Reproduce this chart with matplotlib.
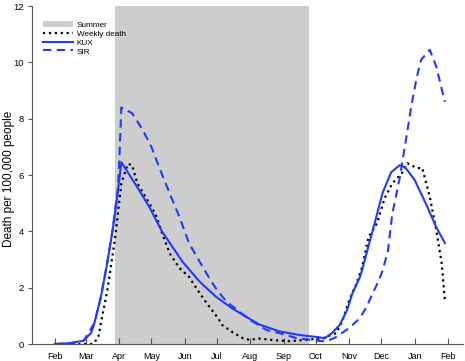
import pandas as pd
import matplotlib
matplotlib.use("Agg")
import matplotlib.pyplot as plt
import matplotlib.dates as mdates

plt.rcParams["font.family"] = ["Liberation Sans", "DejaVu Sans"]

# Weekly observed deaths per 100,000 people
death_dates = ["2020-02-01", "2020-03-06", "2020-03-09", "2020-03-13", "2020-03-15", "2020-03-21",
               "2020-03-28", "2020-04-03", "2020-04-09", "2020-04-13", "2020-04-18", "2020-04-29",
               "2020-05-05", "2020-05-11", "2020-05-18", "2020-05-27", "2020-06-05", "2020-06-15",
               "2020-06-24", "2020-07-02", "2020-07-06", "2020-07-15", "2020-07-25", "2020-08-01",
               "2020-08-08", "2020-08-22", "2020-09-06", "2020-09-19", "2020-09-28", "2020-10-07",
               "2020-10-20", "2020-10-26", "2020-11-01", "2020-11-08", "2020-11-13", "2020-11-19",
               "2020-11-27", "2020-12-04", "2020-12-11", "2020-12-20", "2020-12-25", "2021-01-03",
               "2021-01-08", "2021-01-15", "2021-01-21", "2021-01-26", "2021-01-29"]
death_values = [0.0, 0.0, 0.05, 0.3, 0.75, 1.9,
                3.7, 5.7, 6.4, 6.35, 5.7, 5.0,
                4.6, 3.93, 3.22, 2.7, 2.39, 1.8,
                1.32, 0.92, 0.67, 0.43, 0.21, 0.14,
                0.2, 0.14, 0.1, 0.14, 0.17, 0.2,
                0.39, 0.85, 1.56, 2.17, 2.73, 3.8,
                4.3, 5.18, 5.7, 6.07, 6.42, 6.25,
                6.25, 5.22, 4.05, 2.88, 1.56]

# KUX model
kux_dates = ["2020-02-01", "2020-02-15", "2020-02-28", "2020-03-06", "2020-03-09", "2020-03-15",
             "2020-03-21", "2020-03-26", "2020-03-31", "2020-04-03", "2020-04-20", "2020-04-29",
             "2020-05-11", "2020-05-30", "2020-06-15", "2020-06-30", "2020-07-15", "2020-07-28",
             "2020-08-09", "2020-08-28", "2020-09-16", "2020-10-04", "2020-10-09", "2020-10-16",
             "2020-10-23", "2020-10-30", "2020-11-04", "2020-11-11", "2020-11-13", "2020-11-23",
             "2020-12-02", "2020-12-10", "2020-12-18", "2020-12-23", "2021-01-01", "2021-01-12",
             "2021-01-21", "2021-01-29"]
kux_values = [0.0, 0.03, 0.12, 0.4, 0.75, 1.67,
              2.9, 4.05, 5.47, 6.46, 5.44, 4.87,
              3.99, 2.92, 2.21, 1.68, 1.27, 0.97,
              0.7, 0.45, 0.32, 0.24, 0.2, 0.39,
              0.67, 1.2, 1.8, 2.38, 2.63, 4.05,
              5.36, 6.1, 6.35, 6.28, 5.82, 4.93,
              4.15, 3.59]

# SIR model
sir_dates = ["2020-02-01", "2020-02-15", "2020-02-28", "2020-03-09", "2020-03-15", "2020-03-21",
             "2020-03-26", "2020-03-31", "2020-04-01", "2020-04-03", "2020-04-13", "2020-04-23",
             "2020-05-01", "2020-05-08", "2020-05-18", "2020-05-27", "2020-06-05", "2020-06-15",
             "2020-06-24", "2020-07-01", "2020-07-10", "2020-08-01", "2020-08-16", "2020-08-28",
             "2020-09-13", "2020-09-28", "2020-10-07", "2020-10-11", "2020-10-20", "2020-11-01",
             "2020-11-11", "2020-11-17", "2020-11-23", "2020-11-29", "2020-12-02", "2020-12-07",
             "2020-12-11", "2020-12-18", "2020-12-24", "2020-12-29", "2021-01-03", "2021-01-07",
             "2021-01-15", "2021-01-21", "2021-01-29"]
sir_values = [0.0, 0.03, 0.12, 0.75, 1.67, 2.9,
              4.1, 5.6, 6.4, 8.4, 8.2, 7.6,
              7.0, 6.3, 5.35, 4.52, 3.58, 2.92,
              2.33, 1.92, 1.5, 0.85, 0.5, 0.39,
              0.21, 0.14, 0.1, 0.1, 0.25, 0.57,
              0.92, 1.31, 1.81, 2.3, 2.6, 3.3,
              4.6, 5.9, 7.3, 8.5, 9.5, 10.1,
              10.45, 9.85, 8.6]

summer_start = "2020-03-28"
summer_end = "2020-09-25"

month_ticks = pd.date_range("2020-02-01", "2021-02-01", freq="MS")

blue = "#1f3bff"

fig = plt.figure(figsize=(4.65, 3.61), dpi=100)
ax = fig.add_axes([0.069, 0.047, 0.927, 0.936])

ax.axvspan(pd.Timestamp(summer_start), pd.Timestamp(summer_end), color="#cdcdcd", lw=0, label="Summer")
ax.plot(pd.to_datetime(death_dates), death_values, color="black", ls=":", lw=1.6, label="Weekly death")
ax.plot(pd.to_datetime(kux_dates), kux_values, color=blue, ls="-", lw=1.5, label="KUX")
ax.plot(pd.to_datetime(sir_dates), sir_values, color=blue, ls=(0, (4, 2.6)), lw=1.5, label="SIR")

ax.set_xlim(pd.Timestamp("2020-01-11"), pd.Timestamp("2021-02-15"))
ax.set_ylim(0, 12)
ax.set_yticks(range(0, 13, 2))
ax.set_xticks(month_ticks)
ax.xaxis.set_major_formatter(mdates.DateFormatter("%b"))

for side in ["top", "right"]:
    ax.spines[side].set_visible(False)
ax.spines["left"].set_color("#555555")
ax.spines["bottom"].set_color("#555555")
ax.tick_params(axis="x", direction="in", length=4, labelsize=6.5, pad=5.5, color="#555555")
ax.tick_params(axis="y", direction="out", length=3, labelsize=6.8, pad=3, color="#555555")
ax.set_ylabel("Death per 100,000 people", fontsize=8.5)
ax.yaxis.set_label_coords(-0.04, 0.49)

ax.legend(loc="upper left", bbox_to_anchor=(0.0255, 0.957), frameon=False, fontsize=5.9,
          handlelength=3.7, handleheight=0.85, handletextpad=0.4, labelspacing=0.1,
          borderpad=0, borderaxespad=0)

fig.savefig("out.png", dpi=100)
